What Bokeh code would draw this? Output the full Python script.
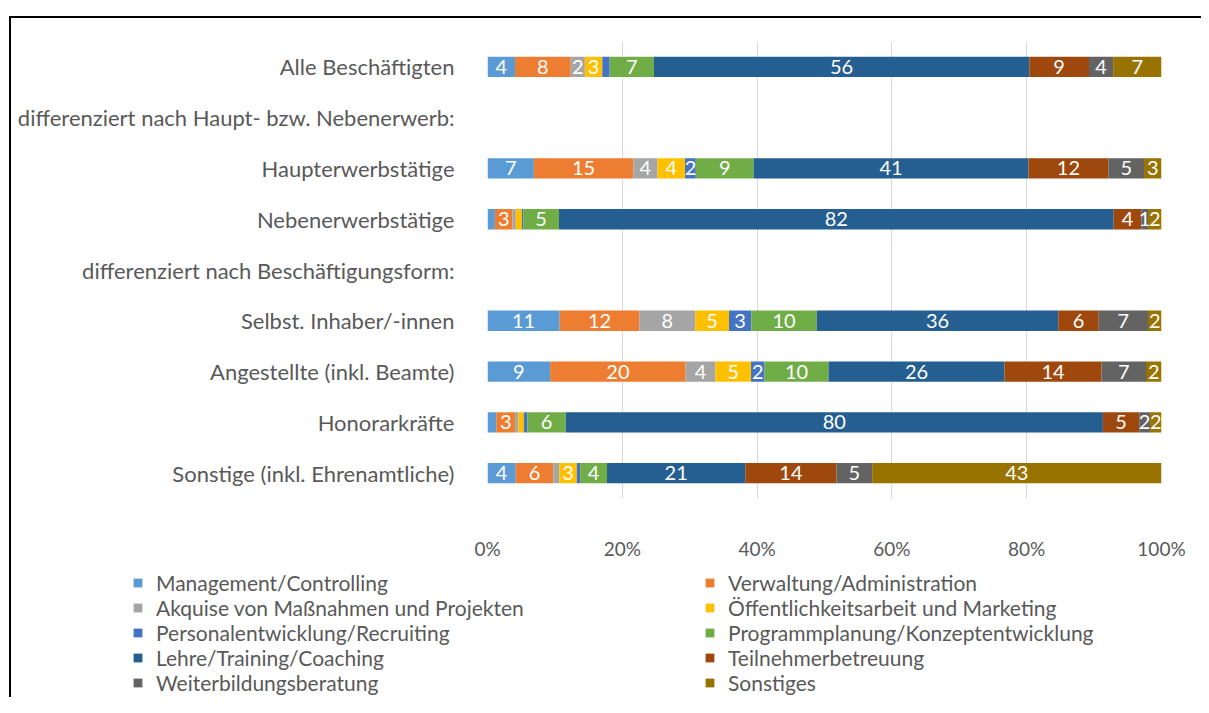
from bokeh.plotting import figure
from bokeh.layouts import column, row
from bokeh.models import (ColumnDataSource, FactorRange, Range1d, FixedTicker,
                          NumeralTickFormatter, Legend, LegendItem)
from bokeh.core.properties import value
from bokeh.embed import file_html
from bokeh.resources import INLINE

# ---------------- data ----------------
categories = [
    "Alle Beschäftigten",
    "differenziert nach Haupt- bzw. Nebenerwerb:",
    "Haupterwerbstätige",
    "Nebenerwerbstätige",
    "differenziert nach Beschäftigungsform:",
    "Selbst. Inhaber/-innen",
    "Angestellte (inkl. Beamte)",
    "Honorarkräfte",
    "Sonstige (inkl. Ehrenamtliche)",
]

series = [
    "Management/Controlling",
    "Verwaltung/Administration",
    "Akquise von Maßnahmen und Projekten",
    "Öffentlichkeitsarbeit und Marketing",
    "Personalentwicklung/Recruiting",
    "Programmplanung/Konzeptentwicklung",
    "Lehre/Training/Coaching",
    "Teilnehmerbetreuung",
    "Weiterbildungsberatung",
    "Sonstiges",
]

colors = ["#5B9BD5", "#ED7D31", "#A5A5A5", "#FFC000", "#4472C4",
          "#70AD47", "#255E91", "#9E480E", "#636363", "#997300"]

# percentages per group (order of series above)
alle_beschaeftigten = [4.1, 8.3, 2.1, 2.6, 1.1, 6.6, 55.9, 8.9, 3.6, 7.2]
haupterwerb = [6.9, 14.8, 3.6, 4.1, 1.6, 8.6, 40.9, 11.9, 5.3, 2.6]
nebenerwerb = [1.1, 2.6, 0.5, 0.9, 0.2, 5.3, 82.3, 4.1, 1.0, 2.0]
selbststaendige = [10.7, 11.8, 8.3, 5.0, 3.3, 9.7, 35.8, 6.0, 7.3, 2.0]
angestellte = [9.3, 20.1, 4.4, 5.3, 2.0, 9.5, 26.1, 14.4, 6.6, 2.3]
honorarkraefte = [1.3, 2.8, 0.5, 0.8, 0.5, 5.7, 79.7, 5.4, 1.6, 1.7]
sonstige = [4.2, 5.6, 0.9, 2.6, 0.5, 4.0, 20.6, 13.6, 5.3, 43.1]

rows = {
    "Alle Beschäftigten": alle_beschaeftigten,
    "Haupterwerbstätige": haupterwerb,
    "Nebenerwerbstätige": nebenerwerb,
    "Selbst. Inhaber/-innen": selbststaendige,
    "Angestellte (inkl. Beamte)": angestellte,
    "Honorarkräfte": honorarkraefte,
    "Sonstige (inkl. Ehrenamtliche)": sonstige,
}
# small labels that are still shown
extra_labels = {("Nebenerwerbstätige", "Weiterbildungsberatung")}

FONT = "Lato"
GREY = "#595959"
W = 1190

# ---------------- main figure ----------------
p = figure(
    y_range=FactorRange(*reversed(categories), range_padding=0),
    x_range=Range1d(0, 1),
    width=W, height=544,
    min_border_left=476, min_border_right=W - 476 - 674,
    min_border_top=23, min_border_bottom=58,
    output_backend="svg", toolbar_location=None,
)
p.outline_line_color = None
p.background_fill_color = "white"
p.border_fill_color = "white"

renderers = []
lab_x, lab_y, lab_t = [], [], []
for si, s in enumerate(series):
    ys, lefts, rights = [], [], []
    for cat, vals in rows.items():
        total = sum(vals)
        left = sum(vals[:si]) / total
        right = left + vals[si] / total
        ys.append(cat)
        lefts.append(left)
        rights.append(right)
        v = vals[si]
        if round(v) >= 2 or (cat, s) in extra_labels:
            lab_x.append((left + right) / 2)
            lab_y.append(cat)
            lab_t.append(str(round(v)))
    src = ColumnDataSource(dict(y=ys, left=lefts, right=rights))
    r = p.hbar(y="y", left="left", right="right", height=0.4, source=src,
               fill_color=colors[si], line_color=None)
    renderers.append(r)

lab_src = ColumnDataSource(dict(x=lab_x, y=lab_y, t=lab_t))
p.text(x="x", y="y", text="t", source=lab_src, text_color="white",
       text_font=value(FONT), text_font_size="20px",
       text_align="center", text_baseline="middle")

p.xaxis.ticker = FixedTicker(ticks=[0, 0.2, 0.4, 0.6, 0.8, 1.0])
p.xaxis.formatter = NumeralTickFormatter(format="0%")
p.xaxis.axis_line_color = None
p.xaxis.major_tick_line_color = None
p.xaxis.minor_tick_line_color = None
p.xaxis.major_label_standoff = 32
p.xaxis.major_label_text_font = FONT
p.xaxis.major_label_text_font_size = "19px"
p.xaxis.major_label_text_color = GREY

p.yaxis.axis_line_color = None
p.yaxis.major_tick_line_color = None
p.yaxis.minor_tick_line_color = None
p.yaxis.major_label_standoff = 27
p.yaxis.major_label_text_font = FONT
p.yaxis.major_label_text_font_size = "22px"
p.yaxis.major_label_text_color = GREY

p.ygrid.grid_line_color = None
p.xgrid.grid_line_color = "#D9D9D9"
p.xgrid.grid_line_width = 1

# ---------------- legend figure ----------------
H2 = 135
q = figure(width=W, height=H2, x_range=Range1d(0, 1), y_range=Range1d(0, 1),
           x_axis_location=None, y_axis_location=None,
           min_border_left=0, min_border_right=0, min_border_top=0, min_border_bottom=0,
           output_backend="svg", toolbar_location=None)
q.grid.visible = False
q.outline_line_color = None
q.border_fill_color = "white"
q.background_fill_color = "white"

# swatch renderers (zero-width bars, only used for the legend swatches)
leg_renderers = []
for c in colors:
    leg_renderers.append(q.hbar(y=[0.5], left=[0], right=[0], height=0.4,
                                fill_color=c, line_color=None))

def make_legend(idx, loc):
    return Legend(
        items=[LegendItem(label=series[i], renderers=[leg_renderers[i]]) for i in idx],
        location=loc, orientation="vertical",
        label_text_font=FONT, label_text_font_size="21px", label_text_color=GREY,
        glyph_width=11, glyph_height=11, label_height=21, spacing=0,
        label_standoff=13, padding=0, margin=0,
        border_line_color=None, background_fill_alpha=0,
    )

q.add_layout(make_legend([0, 2, 4, 6, 8], (121, 2)), "center")
q.add_layout(make_legend([1, 3, 5, 7, 9], (693, 2)), "center")

layout = column(p, row(q), spacing=0, margin=(16, 0, 0, 9))
layout.styles = {"border-top": "2px solid #000", "border-left": "2px solid #000"}

open("out.html", "w").write(file_html(layout, INLINE))
